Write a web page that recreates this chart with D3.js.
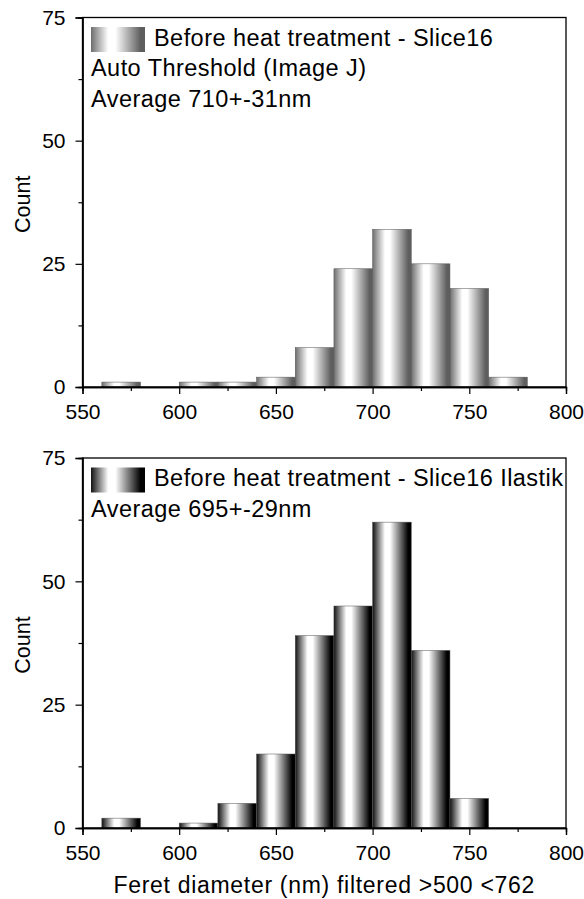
<!DOCTYPE html>
<html>
<head>
<meta charset="utf-8">
<script src="https://cdn.jsdelivr.net/npm/d3@7"></script>
<style>
  body { margin: 0; background: #fff; }
  text { font-family: "Liberation Sans", Arial, sans-serif; fill: #000; }
</style>
</head>
<body>
<svg id="chart"></svg>
<script>
// bin edges (nm) and counts
const binStarts = [560, 580, 600, 620, 640, 660, 680, 700, 720, 740, 760];
const binWidth = 20;
const countsImageJ = [1, 0, 1, 1, 2, 8, 24, 32, 25, 20, 2];
const countsIlastik = [2, 0, 1, 5, 15, 39, 45, 62, 36, 6, 0];
const xTicks = [550, 600, 650, 700, 750, 800];
const yTicks = [0, 25, 50, 75];
const legendTop = ["Before heat treatment - Slice16", "Auto Threshold (Image J)", "Average 710+-31nm"];
const legendBottom = ["Before heat treatment - Slice16 Ilastik", "Average 695+-29nm"];
const xLabel = "Feret diameter (nm) filtered >500 <762";
const yLabel = "Count";

const W = 584, H = 899;
const svg = d3.select("#chart").attr("width", W).attr("height", H);
const defs = svg.append("defs");

// gradients for the bars
function makeGradient(id, edgeLeft, edgeRight) {
    const g = defs.append("linearGradient").attr("id", id)
        .attr("x1", "0%").attr("x2", "100%").attr("y1", "0%").attr("y2", "0%");
    g.append("stop").attr("offset", "0%").attr("stop-color", edgeLeft);
    g.append("stop").attr("offset", "32%").attr("stop-color", "#fff");
    g.append("stop").attr("offset", "45%").attr("stop-color", "#fff");
    g.append("stop").attr("offset", "92%").attr("stop-color", edgeRight);
    g.append("stop").attr("offset", "100%").attr("stop-color", edgeRight);
}
makeGradient("gradGray", "#6e6e6e", "#5e5e5e");
makeGradient("gradBlack", "#111", "#000");

const left = 82.5, right = 566;

const x = d3.scaleLinear().domain([550, 800]).range([left, right]);

function drawPanel(top, bottom, counts, gradId, legendLines) {
    const y = d3.scaleLinear().domain([0, 75]).range([bottom, top]);
    const g = svg.append("g");

    // bars
    g.selectAll("rect.bar")
        .data(binStarts.map((s, i) => ({ s: s, c: counts[i] })).filter(d => d.c > 0))
        .join("rect")
        .attr("class", "bar")
        .attr("x", d => x(d.s))
        .attr("width", d => x(d.s + binWidth) - x(d.s))
        .attr("y", d => y(d.c))
        .attr("height", d => y(0) - y(d.c))
        .attr("fill", `url(#${gradId})`)
        .attr("stroke", "#555")
        .attr("stroke-width", 0.5);

    // frame
    g.append("rect")
        .attr("x", left).attr("y", top)
        .attr("width", right - left).attr("height", bottom - top)
        .attr("fill", "none").attr("stroke", "#000").attr("stroke-width", 1.3);

    // x axis
    g.append("g").attr("transform", `translate(0,${bottom})`)
        .call(d3.axisBottom(x).tickValues(xTicks).tickSize(7).tickPadding(10).tickFormat(d3.format("d")));
    g.append("g").attr("transform", `translate(0,${bottom})`)
        .call(d3.axisBottom(x).tickValues(d3.range(575, 800, 50)).tickSize(4).tickFormat(""));

    // y axis
    g.append("g").attr("transform", `translate(${left},0)`)
        .call(d3.axisLeft(y).tickValues(yTicks).tickSize(7).tickPadding(10));
    g.append("g").attr("transform", `translate(${left},0)`)
        .call(d3.axisLeft(y).tickValues([12.5, 37.5, 62.5]).tickSize(4).tickFormat(""));

    g.selectAll(".domain").attr("stroke", "#000").attr("stroke-width", 1.3);
    g.selectAll(".tick line").attr("stroke", "#000").attr("stroke-width", 1.2);
    g.selectAll(".tick text").attr("font-size", 21).attr("font-family", "Liberation Sans, Arial, sans-serif");

    // y label
    g.append("text")
        .attr("transform", `translate(30,${(top + bottom) / 2 + 2}) rotate(-90)`)
        .attr("text-anchor", "middle")
        .attr("font-size", 21.5)
        .text(yLabel);

    // legend
    const lg = g.append("g").attr("transform", `translate(${left + 8.5},${top})`);
    lg.append("rect").attr("x", 0).attr("y", 9.5).attr("width", 54).attr("height", 25)
        .attr("fill", `url(#${gradId})`);
    lg.selectAll("text.leg").data(legendLines).join("text")
        .attr("class", "leg")
        .attr("x", (d, i) => i === 0 ? 63 : 0)
        .attr("y", (d, i) => 28 + i * 30.5)
        .attr("font-size", 23.5)
        .attr("letter-spacing", 0.45)
        .text(d => d);
}

drawPanel(17.5, 387, countsImageJ, "gradGray", legendTop);
drawPanel(458, 828, countsIlastik, "gradBlack", legendBottom);

// x label
svg.append("text")
    .attr("x", (left + right) / 2)
    .attr("y", 893)
    .attr("text-anchor", "middle")
    .attr("font-size", 23)
    .attr("letter-spacing", 0.7)
    .text(xLabel);
</script>
</body>
</html>
